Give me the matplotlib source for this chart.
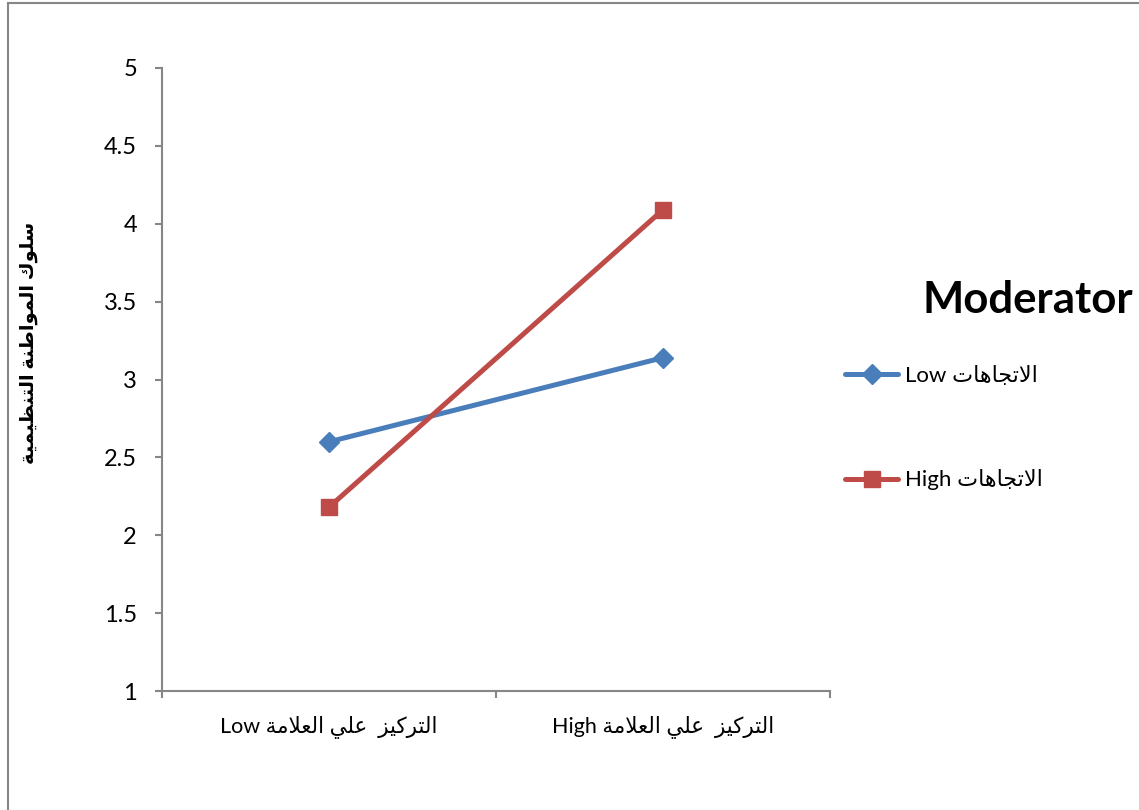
import matplotlib
matplotlib.use("Agg")
import numpy as np
import matplotlib.pyplot as plt
from matplotlib.patches import Rectangle

# data
categories = ["التركيز  علي العلامة Low", "التركيز  علي العلامة High"]
series_names = ["الاتجاهات Low", "الاتجاهات High"]
low_values = [2.60, 3.14]
high_values = [2.18, 4.09]
y_ticks = [1, 1.5, 2, 2.5, 3, 3.5, 4, 4.5, 5]
y_title = "سلوك المواطنة التنظيمية"
legend_title = "Moderator"

# minimal arabic shaping: isolated, final, initial, medial
FORMS = {
    "ا": ("\uFE8D", "\uFE8E", None, None),
    "ت": ("\uFE95", "\uFE96", "\uFE97", "\uFE98"),
    "ج": ("\uFE9D", "\uFE9E", "\uFE9F", "\uFEA0"),
    "ه": ("\uFEE9", "\uFEEA", "\uFEEB", "\uFEEC"),
    "ر": ("\uFEAD", "\uFEAE", None, None),
    "ز": ("\uFEAF", "\uFEB0", None, None),
    "ك": ("\uFED9", "\uFEDA", "\uFEDB", "\uFEDC"),
    "ي": ("\uFEF1", "\uFEF2", "\uFEF3", "\uFEF4"),
    "ع": ("\uFEC9", "\uFECA", "\uFECB", "\uFECC"),
    "ل": ("\uFEDD", "\uFEDE", "\uFEDF", "\uFEE0"),
    "م": ("\uFEE1", "\uFEE2", "\uFEE3", "\uFEE4"),
    "ة": ("\uFE93", "\uFE94", None, None),
    "س": ("\uFEB1", "\uFEB2", "\uFEB3", "\uFEB4"),
    "و": ("\uFEED", "\uFEEE", None, None),
    "ط": ("\uFEC1", "\uFEC2", "\uFEC3", "\uFEC4"),
    "ن": ("\uFEE5", "\uFEE6", "\uFEE7", "\uFEE8"),
    "ظ": ("\uFEC5", "\uFEC6", "\uFEC7", "\uFEC8"),
}
LAM_ALEF = ("\uFEFB", "\uFEFC")


def shape_word(w):
    out = []
    i = 0
    while i < len(w):
        c = w[i]
        if c not in FORMS:
            out.append(c)
            i += 1
            continue
        prev = w[i - 1] if i > 0 else None
        joins_prev = prev in FORMS and FORMS[prev][2] is not None
        if c == "ل" and i + 1 < len(w) and w[i + 1] == "ا":
            out.append(LAM_ALEF[1] if joins_prev else LAM_ALEF[0])
            i += 2
            continue
        nxt = w[i + 1] if i + 1 < len(w) else None
        joins_next = nxt in FORMS and FORMS[c][2] is not None
        iso, fin, ini, med = FORMS[c]
        if joins_prev and joins_next:
            out.append(med)
        elif joins_prev:
            out.append(fin)
        elif joins_next:
            out.append(ini)
        else:
            out.append(iso)
        i += 1
    return "".join(out)


def rtl(s):
    # right-to-left paragraph: reverse the words, reverse letters of arabic words
    words = []
    for w in s.split(" "):
        if any(ch in FORMS for ch in w):
            words.append(shape_word(w)[::-1])
        else:
            words.append(w)
    return " ".join(reversed(words))


plt.rcParams['font.family'] = ['Lato', 'DejaVu Sans']

blue = "#4A7EBB"
red = "#BE4B48"
gray = "#868686"

W, H = 1139, 810
fig = plt.figure(figsize=(W / 100, H / 100), dpi=100)
ax = fig.add_axes([162 / W, 1 - 691 / H, (830 - 162) / W, (691 - 68) / H])

x = np.arange(len(categories)) + 0.5
ax.plot(x, low_values, color=blue, lw=3.6, marker="D", markersize=10,
        label=rtl(series_names[0]), solid_capstyle="round")
ax.plot(x, high_values, color=red, lw=3.6, marker="s", markersize=12,
        label=rtl(series_names[1]), solid_capstyle="round")

ax.set_xlim(0, len(categories))
ax.set_ylim(1, 5)
ax.set_yticks(y_ticks)
ax.set_yticklabels([f"{v:g}" for v in y_ticks])
ax.set_xticks(np.arange(len(categories) + 1))
ax.set_xticklabels([])
ax.set_xticks(x, minor=True)
ax.set_xticklabels([rtl(c) for c in categories], minor=True)

for side in ["top", "right"]:
    ax.spines[side].set_visible(False)
for side in ["left", "bottom"]:
    ax.spines[side].set_color(gray)
    ax.spines[side].set_linewidth(1.5)
ax.tick_params(axis="both", which="major", direction="out", length=5,
               width=1.5, color=gray, labelsize=17, pad=13)
ax.tick_params(axis="x", which="minor", length=0, labelsize=15.5, pad=17)

fig.text(29 / W, 1 - 343 / H, rtl(y_title), rotation=90, fontsize=14,
         fontweight="bold", ha="center", va="center")

fig.text(922 / W, 1 - 300 / H, legend_title, fontsize=31.5, fontweight="bold",
         ha="left", va="center")

fig.legend(loc="upper left", bbox_to_anchor=(845 / W, 1 - 366 / H),
           frameon=False, fontsize=16, handlelength=2.4, handletextpad=0.3,
           labelspacing=3.75, borderpad=0, borderaxespad=0)

# outer chart frame
fig.patches.append(Rectangle((8 / W, -0.1), 1.2, 1.1 - 3 / H,
                             transform=fig.transFigure, fill=False,
                             edgecolor=gray, lw=1.5))

fig.savefig("out.png", dpi=100)
